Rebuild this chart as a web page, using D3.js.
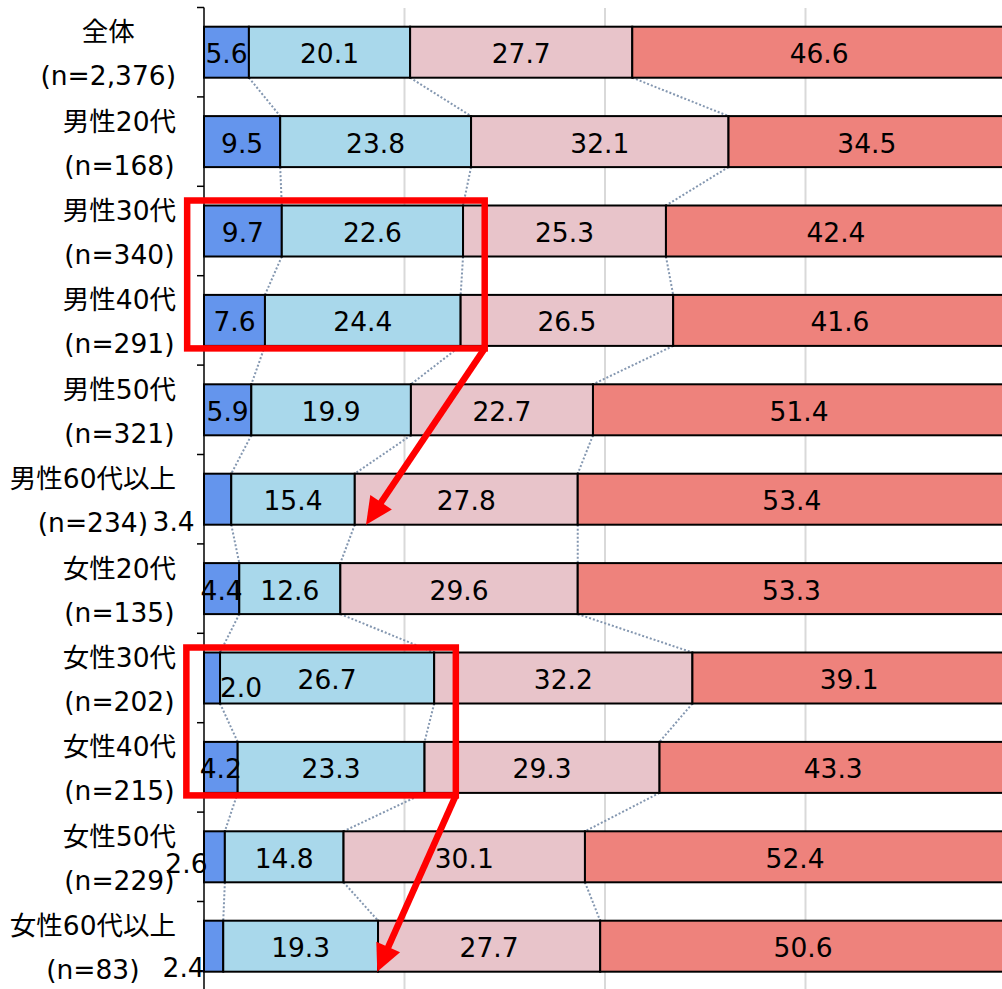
<!DOCTYPE html>
<html>
<head>
<meta charset="utf-8">
<script src="https://cdn.jsdelivr.net/npm/d3@7"></script>
<style>
  html, body { margin: 0; padding: 0; background: #fff; }
  svg { display: block; }
  text { font-family: "DejaVu Sans", "Noto Sans CJK JP", sans-serif; fill: #000; }
</style>
</head>
<body>
<svg id="chart" width="1002" height="989"></svg>
<script>
// Respondent groups and their sample sizes
const categories = ["全体", "男性20代", "男性30代", "男性40代", "男性50代", "男性60代以上",
                    "女性20代", "女性30代", "女性40代", "女性50代", "女性60代以上"];
const sampleSizes = ["2,376", "168", "340", "291", "321", "234", "135", "202", "215", "229", "83"];

// Share of each answer (%), left to right
const answer1 = [5.6, 9.5, 9.7, 7.6, 5.9, 3.4, 4.4, 2.0, 4.2, 2.6, 2.4];
const answer2 = [20.1, 23.8, 22.6, 24.4, 19.9, 15.4, 12.6, 26.7, 23.3, 14.8, 19.3];
const answer3 = [27.7, 32.1, 25.3, 26.5, 22.7, 27.8, 29.6, 32.2, 29.3, 30.1, 27.7];
const answer4 = [46.6, 34.5, 42.4, 41.6, 51.4, 53.4, 53.3, 39.1, 43.3, 52.4, 50.6];

// Gridline positions on the percentage axis
const gridTicks = [25, 50, 75, 100];

const series = [answer1, answer2, answer3, answer4];
const colors = ["#6495ed", "#a9d8eb", "#e8c4ca", "#ee827c"];

const svg = d3.select("#chart");

const x = d3.scaleLinear().domain([0, 100]).range([204, 1006]);
const y = d3.scaleBand().domain(categories).range([7.5, 7.5 + 89.4 * categories.length]).padding(0);
const barH = 51;
const barTop = c => y(c) + (y.bandwidth() - barH) / 2;
const mid = c => y(c) + y.bandwidth() / 2;
const fontSize = 26.5;
const textShift = 1.5;

// Stack rows into segments
const rows = categories.map((c, i) => {
  let acc = 0;
  const segs = series.map((s, k) => {
    const seg = { cat: c, row: i, k, v: s[i], x0: acc, x1: acc + s[i] };
    acc += s[i];
    return seg;
  });
  return { cat: c, i, segs };
});

// Vertical gridlines
svg.append("g").selectAll("line").data(gridTicks).join("line")
  .attr("x1", d => x(d)).attr("x2", d => x(d))
  .attr("y1", 8).attr("y2", 989)
  .attr("stroke", "#d9d9d9").attr("stroke-width", 2);

// Dotted connectors between cumulative boundaries of neighbouring bars
const conn = [];
for (let i = 0; i < rows.length - 1; i++) {
  for (let k = 0; k < 3; k++) {
    conn.push({
      x1: x(rows[i].segs[k].x1), y1: barTop(rows[i].cat) + barH,
      x2: x(rows[i + 1].segs[k].x1), y2: barTop(rows[i + 1].cat)
    });
  }
}
svg.append("g").selectAll("line").data(conn).join("line")
  .attr("x1", d => d.x1).attr("y1", d => d.y1)
  .attr("x2", d => d.x2).attr("y2", d => d.y2)
  .attr("stroke", "#8497b0").attr("stroke-width", 2)
  .attr("stroke-dasharray", "2,2");

// Bars
const allSegs = rows.flatMap(r => r.segs);
svg.append("g").selectAll("rect").data(allSegs).join("rect")
  .attr("x", d => x(d.x0)).attr("y", d => barTop(d.cat))
  .attr("width", d => x(d.x1) - x(d.x0)).attr("height", barH)
  .attr("fill", d => colors[d.k])
  .attr("stroke", "#000").attr("stroke-width", 2);

// Nudges for small values whose labels sit outside the centre
const labelNudge = { "5-0": [-44, 21], "7-0": [29, 8], "9-0": [-28, 5], "10-0": [-30, 20] };

svg.append("g").selectAll("text").data(allSegs).join("text")
  .attr("x", d => (x(d.x0) + x(d.x1)) / 2 + ((labelNudge[d.row + "-" + d.k] || [0, 0])[0]))
  .attr("y", d => mid(d.cat) + textShift + ((labelNudge[d.row + "-" + d.k] || [0, 0])[1]))
  .attr("text-anchor", "middle").attr("dominant-baseline", "central")
  .attr("font-size", fontSize)
  .text(d => d.v.toFixed(1));

// Left axis with ticks on band boundaries
const axis = svg.append("g");
axis.append("line").attr("x1", 204).attr("x2", 204)
  .attr("y1", y.range()[0]).attr("y2", 989)
  .attr("stroke", "#000").attr("stroke-width", 1.5);
const bounds = categories.map(c => y(c)).concat([y.range()[1]]);
axis.selectAll("line.tick").data(bounds).join("line").attr("class", "tick")
  .attr("x1", 197).attr("x2", 204).attr("y1", d => d).attr("y2", d => d)
  .attr("stroke", "#000").attr("stroke-width", 1.5);

// Two-line category labels: lines centred on each other, block right-aligned
const labelRight = 176;
const lg = svg.append("g");
rows.forEach(r => {
  const t1 = lg.append("text").attr("font-size", fontSize).attr("text-anchor", "middle")
    .attr("dominant-baseline", "central").text(r.cat);
  const t2 = lg.append("text").attr("font-size", fontSize).attr("text-anchor", "middle")
    .attr("dominant-baseline", "central").text("(n=" + sampleSizes[r.i] + ")");
  const w = Math.max(t1.node().getComputedTextLength(), t2.node().getComputedTextLength());
  const cx = labelRight - w / 2;
  t1.attr("x", cx).attr("y", mid(r.cat) - 22 + textShift);
  t2.attr("x", cx).attr("y", mid(r.cat) + 22 + textShift);
});

// Highlight boxes and arrows
const red = "#ff0000";
const boxes = [
  { from: 2, to: 3, xMin: -2.1, xMax: 35.0, arrowTo: { row: 5, pct: 20.2 } },
  { from: 7, to: 8, xMin: -2.2, xMax: 31.4, arrowTo: { row: 10, pct: 21.6 } }
];
const ann = svg.append("g");
boxes.forEach(b => {
  const top = barTop(categories[b.from]) - 5;
  const bottom = barTop(categories[b.to]) + barH + 2.5;
  const left = x(b.xMin), right = x(b.xMax);
  ann.append("rect").attr("x", left).attr("y", top)
    .attr("width", right - left).attr("height", bottom - top)
    .attr("fill", "none").attr("stroke", red).attr("stroke-width", 6.5);

  const tx = x(b.arrowTo.pct), ty = barTop(categories[b.arrowTo.row]) + barH;
  const sx = right, sy = bottom;
  const len = Math.hypot(tx - sx, ty - sy);
  const ux = (tx - sx) / len, uy = (ty - sy) / len;
  const headL = 27, headW = 13;
  const bx = tx - ux * headL, by = ty - uy * headL;
  ann.append("line").attr("x1", sx).attr("y1", sy).attr("x2", bx + ux * 2).attr("y2", by + uy * 2)
    .attr("stroke", red).attr("stroke-width", 6.5);
  ann.append("path")
    .attr("d", `M${tx},${ty} L${bx - uy * headW},${by + ux * headW} L${bx + uy * headW},${by - ux * headW} Z`)
    .attr("fill", red);
});
</script>
</body>
</html>
